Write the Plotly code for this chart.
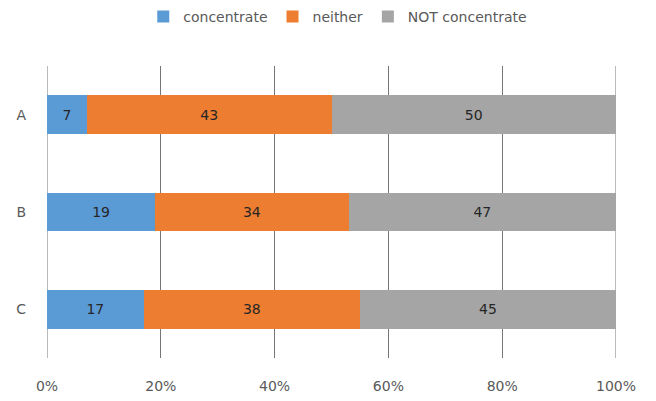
import plotly.graph_objects as go

categories = ["A", "B", "C"]
concentrate = [7, 19, 17]
neither = [43, 34, 38]
not_concentrate = [50, 47, 45]
tick_values = [0, 20, 40, 60, 80, 100]
tick_labels = ["0%", "20%", "40%", "60%", "80%", "100%"]

series = [
    ("concentrate", concentrate, "#5B9BD5"),
    ("neither", neither, "#ED7D31"),
    ("NOT concentrate", not_concentrate, "#A5A5A5"),
]

FONT = "DejaVu Sans, sans-serif"
GRID = "#767676"

fig = go.Figure()
for name, vals, color in series:
    fig.add_trace(go.Bar(
        y=categories,
        x=vals,
        name=name,
        orientation="h",
        marker=dict(color=color, line=dict(width=0)),
        text=[str(v) for v in vals],
        textposition="inside",
        insidetextanchor="middle",
        textangle=0,
        textfont=dict(family=FONT, size=14, color="#262626"),
        hoverinfo="skip",
    ))

# vertical lines at the range ends (0% and 100%), below the bars
for xv in (tick_values[0], tick_values[-1]):
    fig.add_shape(
        type="line", xref="x", yref="paper",
        x0=xv, x1=xv, y0=0, y1=1,
        line=dict(color=GRID, width=1),
        layer="below",
    )

fig.update_layout(
    width=656,
    height=401,
    margin=dict(l=47, r=40, t=66, b=43, autoexpand=False),
    barmode="stack",
    bargap=0.6,
    plot_bgcolor="white",
    paper_bgcolor="white",
    font=dict(family=FONT, size=14, color="#595959"),
    uniformtext=dict(mode="show", minsize=14),
    legend=dict(
        orientation="h",
        x=0.511, xanchor="center",
        y=0.958, yanchor="middle",
        yref="container",
        font=dict(family=FONT, size=14, color="#595959"),
        itemwidth=30,
        traceorder="normal",
    ),
    xaxis=dict(
        range=[0, 100],
        tickvals=tick_values,
        ticktext=tick_labels,
        showgrid=True,
        gridcolor=GRID,
        gridwidth=1,
        zeroline=False,
        showline=False,
        ticks="",
        ticklabelstandoff=18,
        automargin=False,
        fixedrange=True,
    ),
    yaxis=dict(
        autorange="reversed",
        showgrid=False,
        zeroline=False,
        showline=False,
        ticks="",
        ticklabelstandoff=20,
        automargin=False,
        fixedrange=True,
    ),
)

fig.write_html("out.html")
